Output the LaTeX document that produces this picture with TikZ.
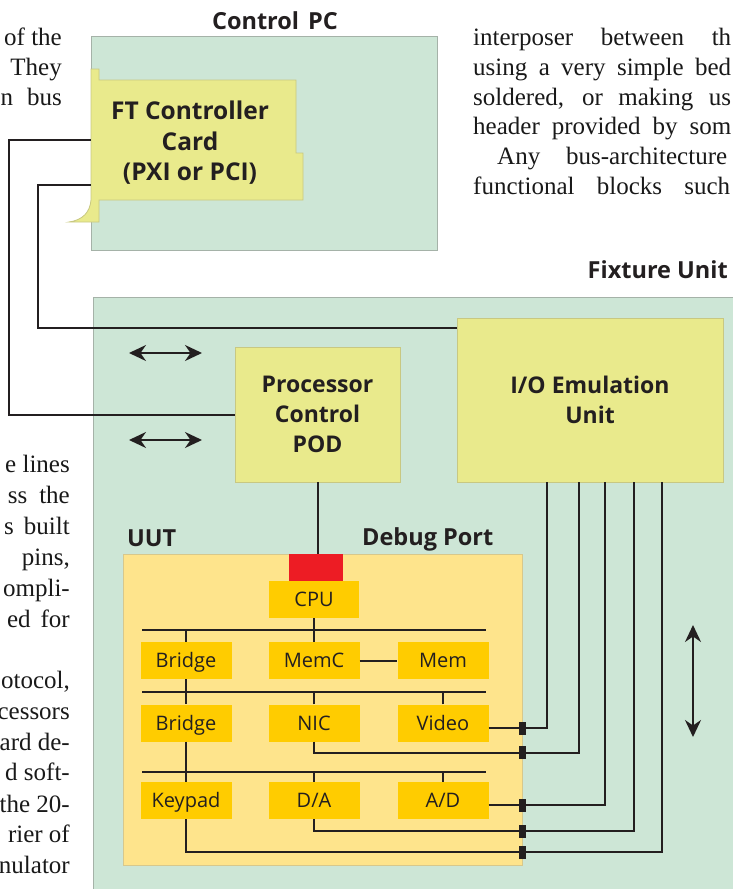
\documentclass[tikz,border=0pt]{standalone}
\usepackage{fontspec}
\setmainfont{Liberation Serif}
\newfontfamily\osans{Open Sans}
\usetikzlibrary{arrows.meta,calc}
\definecolor{bggreen}{RGB}{205,230,214}
\definecolor{boxline}{RGB}{165,178,168}
\definecolor{ylgreen}{RGB}{233,234,140}
\definecolor{ylline}{RGB}{200,200,130}
\definecolor{uutyel}{RGB}{254,228,140}
\definecolor{uutline}{RGB}{215,200,140}
\definecolor{gold}{RGB}{255,204,0}
\definecolor{portred}{RGB}{237,28,36}
\definecolor{ink}{RGB}{35,31,32}
\begin{document}
\begin{tikzpicture}[x=1pt,y=-1pt,
  panel/.style={draw=boxline,line width=0.8pt,fill=bggreen,inner sep=0pt},
  unitbox/.style={draw=ylline,line width=0.8pt,fill=ylgreen,inner sep=0pt,text=ink,
    font=\osans\bfseries\fontsize{23}{30}\selectfont,align=center},
  blk/.style={fill=gold,minimum width=91pt,minimum height=37pt,inner sep=0pt,text=ink,
    text height=14pt,text depth=0pt,font=\osans\fontsize{20}{24}\selectfont},
  wire/.style={draw=ink,line width=2pt},
  title/.style={text=ink,inner sep=0pt,font=\osans\bfseries\fontsize{23.5}{28}\selectfont},
  bodytext/.style={inner sep=0pt,text=black!90,font=\fontsize{25}{30}\selectfont},
  conn/.style={fill=ink,minimum width=7.5pt,minimum height=13pt,inner sep=0pt},
  dbl/.style={draw=ink,line width=1.8pt,{Stealth[length=17pt,width=16pt]}-{Stealth[length=17pt,width=16pt]}}
]
\useasboundingbox (0,0) rectangle (733,889);
\clip (0,0) rectangle (733,889);

% surrounding page text
\node[bodytext,anchor=base east] (t1) at (62,45) {of the};
\node[bodytext,anchor=base east] (t2) at (62,75) {They};
\node[bodytext,anchor=base east] (t3) at (62,105) {n\hspace{14pt}bus};
\node[bodytext,anchor=base west] (r1) at (473,45) {\makebox[258pt][s]{interposer between th}};
\node[bodytext,anchor=base west] (r2) at (473,75) {\makebox[258pt][s]{using a very simple bed}};
\node[bodytext,anchor=base west] (r3) at (473,105) {\makebox[258pt][s]{soldered, or making us}};
\node[bodytext,anchor=base west] (r4) at (473,134) {\makebox[258pt][s]{header provided by som}};
\node[bodytext,anchor=base west] (r5) at (497,164) {\makebox[230pt][s]{Any bus-architecture}};
\node[bodytext,anchor=base west] (r6) at (473,194) {\makebox[257pt][s]{functional blocks such}};
\node[bodytext,anchor=base east] (l1) at (70,472) {e lines};
\node[bodytext,anchor=base east] (l2) at (70,503) {ss\hspace{12pt}the};
\node[bodytext,anchor=base east] (l3) at (70,534) {s\hspace{10pt}built};
\node[bodytext,anchor=base east] (l4) at (70,565) {pins,};
\node[bodytext,anchor=base east] (l5) at (70,596) {ompli-};
\node[bodytext,anchor=base east] (l6) at (70,627) {ed\hspace{10pt}for};
\node[bodytext,anchor=base east] (l7) at (70,688) {otocol,};
\node[bodytext,anchor=base east] (l8) at (70,719) {cessors};
\node[bodytext,anchor=base east] (l9) at (70,750) {ard de-};
\node[bodytext,anchor=base east] (l10) at (70,780) {d soft-};
\node[bodytext,anchor=base east] (l11) at (70,812) {the 20-};
\node[bodytext,anchor=base east] (l12) at (70,842) {rier of};
\node[bodytext,anchor=base east] (l13) at (70,873) {nulator};

% panels
\node[panel,minimum width=346pt,minimum height=214pt] (pc) at (264,143) {};
\node[title,anchor=base] (pct) at (275,29) {Control\hspace{9pt}PC};
\node[panel,minimum width=660pt,minimum height=620pt] (fix) at (423,607) {};
\node[title,anchor=base east] (fixt) at (728,278) {Fixture Unit};

% FT controller card
\path[fill=ylgreen,draw=ylline,line width=0.8pt]
  (91,69) -- (99,69) -- (99,80) -- (296,80) -- (296,153) -- (303,153) -- (303,200)
  -- (99,200) -- (99,222) -- (69,222) .. controls (83,220) and (90,212) .. (91,200) -- cycle;
\node[minimum width=212pt,minimum height=120pt,inner sep=0pt] (ft) at (197,140) {};
\node[text=ink,inner sep=0pt,align=center,font=\osans\bfseries\fontsize{24.5}{30.5}\selectfont]
  (ftt) at (190,143) {FT Controller\\Card\\(PXI or PCI)};

% units
\node[unitbox,minimum width=165pt,minimum height=135pt] (pod) at (317.5,414.5) {Processor\\Control\\POD};
\node[unitbox,minimum width=266pt,minimum height=164pt] (io) at (590,400) {I/O Emulation\\Unit};

% card to units
\coordinate (c1) at (9,0);
\coordinate (c2) at (38,0);
\coordinate (ft2) at ([yshift=15pt]ft.south west);
\coordinate (iot) at ([yshift=-10pt]io.north west);
\draw[wire] (ft.west) -| (c1 |- pod.west) -- (pod.west);
\draw[wire] (ft2) -| (c2 |- iot) -- (iot);

% arrows
\coordinate (a1l) at (129,353); \coordinate (a1r) at (202,353);
\coordinate (a2l) at (129,440); \coordinate (a2r) at (202,440);
\coordinate (a3t) at (693,625); \coordinate (a3b) at (693,737);
\draw[dbl] (a1l) -- (a1r);
\draw[dbl] (a2l) -- (a2r);
\draw[dbl] (a3t) -- (a3b);

% UUT
\node[draw=uutline,line width=0.8pt,fill=uutyel,minimum width=399pt,minimum height=311pt,inner sep=0pt] (uut) at (322.5,709.5) {};
\node[title,anchor=base west] (uutt) at (127,546) {UUT};
\node[title,anchor=base west] (dbg) at (362,545) {Debug Port};
\node[fill=portred,minimum width=54pt,minimum height=27pt,inner sep=0pt] (port) at (316,567.5) {};
\node[blk,minimum width=90pt] (cpu) at (314,599.5) {CPU};

\coordinate (b1l) at (142,630); \coordinate (b1r) at (486,630);
\coordinate (b2l) at (142,692); \coordinate (b2r) at (486,692);
\coordinate (b3l) at (142,772); \coordinate (b3r) at (486,772);

\node[blk] (br1) at (186,660.5) {Bridge};
\node[blk] (memc) at (314,660.5) {MemC};
\node[blk] (mem) at (443,660.5) {Mem};
\node[blk] (br2) at (186,723) {Bridge};
\node[blk] (nic) at (314,723) {NIC};
\node[blk] (video) at (443,723) {Video};
\node[blk] (key) at (186,800.5) {Keypad};
\node[blk] (da) at (314,800.5) {D/A};
\node[blk] (ad) at (443,800.5) {A/D};

\draw[wire] (pod.south) -- (pod.south |- port.north);
\draw[wire] (b1l) -- (b1r);
\draw[wire] (b2l) -- (b2r);
\draw[wire] (b3l) -- (b3r);
\draw[wire] (cpu.south) -- (memc.north);
\draw[wire] (br1.north) -- (br1.north |- b1l);
\draw[wire] (memc.east) -- (mem.west);
\draw[wire] (br1.south) -- (br2.north);
\draw[wire] (nic.north) -- (nic.north |- b2l);
\draw[wire] (video.north) -- (video.north |- b2l);
\draw[wire] (br2.south) -- (key.north);
\draw[wire] (da.north) -- (da.north |- b3l);
\draw[wire] (ad.north) -- (ad.north |- b3l);

% wires to I/O emulation unit
\coordinate (w1) at ([xshift=90pt]io.south west);
\coordinate (w2) at ([xshift=122pt]io.south west);
\coordinate (w3) at ([xshift=148pt]io.south west);
\coordinate (w4) at ([xshift=177pt]io.south west);
\coordinate (w5) at ([xshift=205pt]io.south west);
\coordinate (vw) at ([yshift=-5pt]video.east);
\coordinate (nw) at ([yshift=-11pt]nic.south);
\coordinate (aw) at ([yshift=-4.5pt]ad.east);
\coordinate (dw) at ([yshift=-12pt]da.south);
\coordinate (kw) at ([yshift=-33pt]key.south);
\draw[wire] (vw) -| (w1);
\draw[wire] (nic.south) -- (nw) -| (w2);
\draw[wire] (aw) -| (w3);
\draw[wire] (da.south) -- (dw) -| (w4);
\draw[wire] (key.south) -- (kw) -| (w5);
\node[conn] (k1) at (uut.east |- vw) {};
\node[conn] (k2) at (uut.east |- nw) {};
\node[conn] (k3) at (uut.east |- aw) {};
\node[conn] (k4) at (uut.east |- dw) {};
\node[conn] (k5) at (uut.east |- kw) {};
\end{tikzpicture}
\end{document}
